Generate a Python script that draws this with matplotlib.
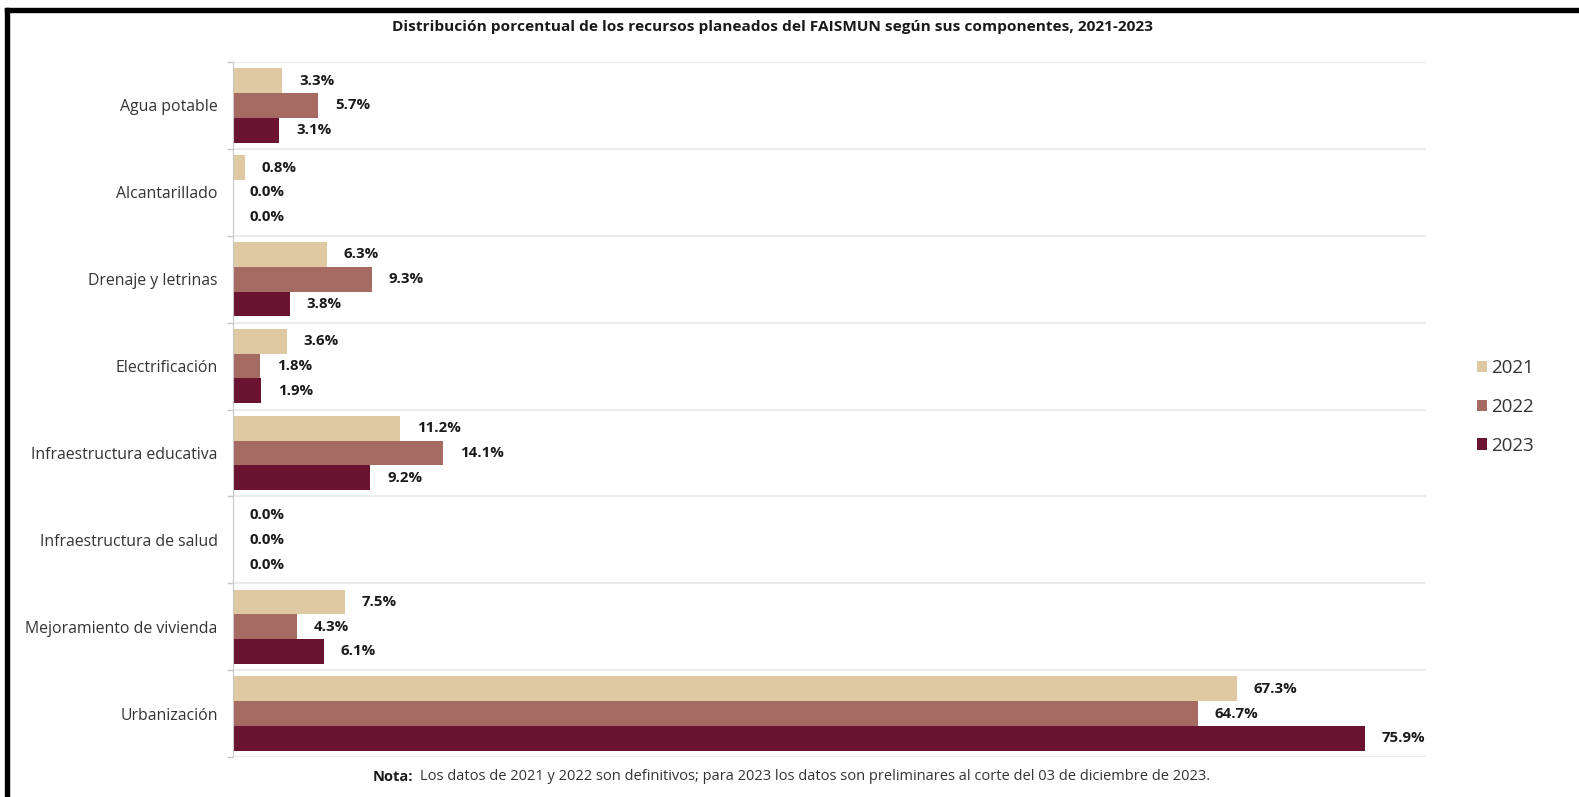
import numpy as np
import matplotlib.pyplot as plt
from matplotlib.patches import Patch, Rectangle

# Data
categories = ['Agua potable', 'Alcantarillado', 'Drenaje y letrinas', 'Electrificación',
              'Infraestructura educativa', 'Infraestructura de salud',
              'Mejoramiento de vivienda', 'Urbanización']
years = ['2021', '2022', '2023']
values_2021 = [3.3, 0.8, 6.3, 3.6, 11.2, 0.0, 7.5, 67.3]
values_2022 = [5.7, 0.0, 9.3, 1.8, 14.1, 0.0, 4.3, 64.7]
values_2023 = [3.1, 0.0, 3.8, 1.9, 9.2, 0.0, 6.1, 75.9]
colors = ['#dfc9a3', '#a56b63', '#6a1431']

plt.rcParams['font.family'] = ['Open Sans', 'DejaVu Sans']

fig = plt.figure(figsize=(15.79, 7.97), dpi=100)
ax = fig.add_axes([233 / 1579, 1 - 757 / 797, (1426 - 233) / 1579, (757 - 62) / 797])

y = np.arange(len(categories))
h = 0.285
series = [values_2021, values_2022, values_2023]
for k, (vals, col, yr) in enumerate(zip(series, colors, years)):
    pos = y + (k - 1) * h
    ax.barh(pos, vals, height=h, color=col, label=yr)
    for p, v in zip(pos, vals):
        ax.annotate(f'{v:.1f}%', (v, p), xytext=(17, 0), textcoords='offset pixels',
                    ha='left', va='center', fontsize=10.8, fontweight='bold', color='#1a1a1a')

ax.set_xlim(0, 80)
ax.set_ylim(len(categories) - 0.5, -0.5)
ax.set_yticks(y)
ax.set_yticklabels(categories, fontsize=11.4, color='#333333')
ax.set_yticks(np.arange(len(categories) + 1) - 0.5, minor=True)
ax.tick_params(axis='y', which='major', length=0, pad=11)
ax.tick_params(axis='y', which='minor', length=4, color='#c8c8c8', width=1)
ax.set_xticks([])
ax.grid(axis='y', which='minor', color='#ebebeb', linewidth=1.5)
ax.set_axisbelow(True)
for s in ['top', 'right', 'bottom']:
    ax.spines[s].set_visible(False)
ax.spines['left'].set_color('#c8c8c8')

fig.text(0.489, 1 - 27 / 797, 'Distribución porcentual de los recursos planeados del FAISMUN según sus componentes, 2021-2023',
         ha='center', va='center', fontsize=11.1, fontweight='bold', color='#1a1a1a')

fig.text(413 / 1579, 1 - 777 / 797, 'Nota:', ha='right', va='center', fontsize=10.5,
         fontweight='bold', color='#1a1a1a')
fig.text(420 / 1579, 1 - 777 / 797,
         'Los datos de 2021 y 2022 son definitivos; para 2023 los datos son preliminares al corte del 03 de diciembre de 2023.',
         ha='left', va='center', fontsize=10.5, color='#333333')

handles = [Patch(facecolor=c, label=yr) for c, yr in zip(colors, years)]
fig.legend(handles=handles, loc='center left', bbox_to_anchor=(1460 / 1579, 1 - 407 / 797),
           frameon=False, fontsize=13.5, handlelength=0.55, handleheight=0.55,
           handletextpad=0.2, labelspacing=1.1, labelcolor='#333333')

# black frame on top and left edges
fig.add_artist(Rectangle((5 / 1579, 0), 4 / 1579, 1 - 8 / 797, transform=fig.transFigure,
                         color='black', zorder=10))
fig.add_artist(Rectangle((5 / 1579, 1 - 12 / 797), 1 - 5 / 1579, 4 / 797, transform=fig.transFigure,
                         color='black', zorder=10))

fig.savefig('out.png', dpi=100)
